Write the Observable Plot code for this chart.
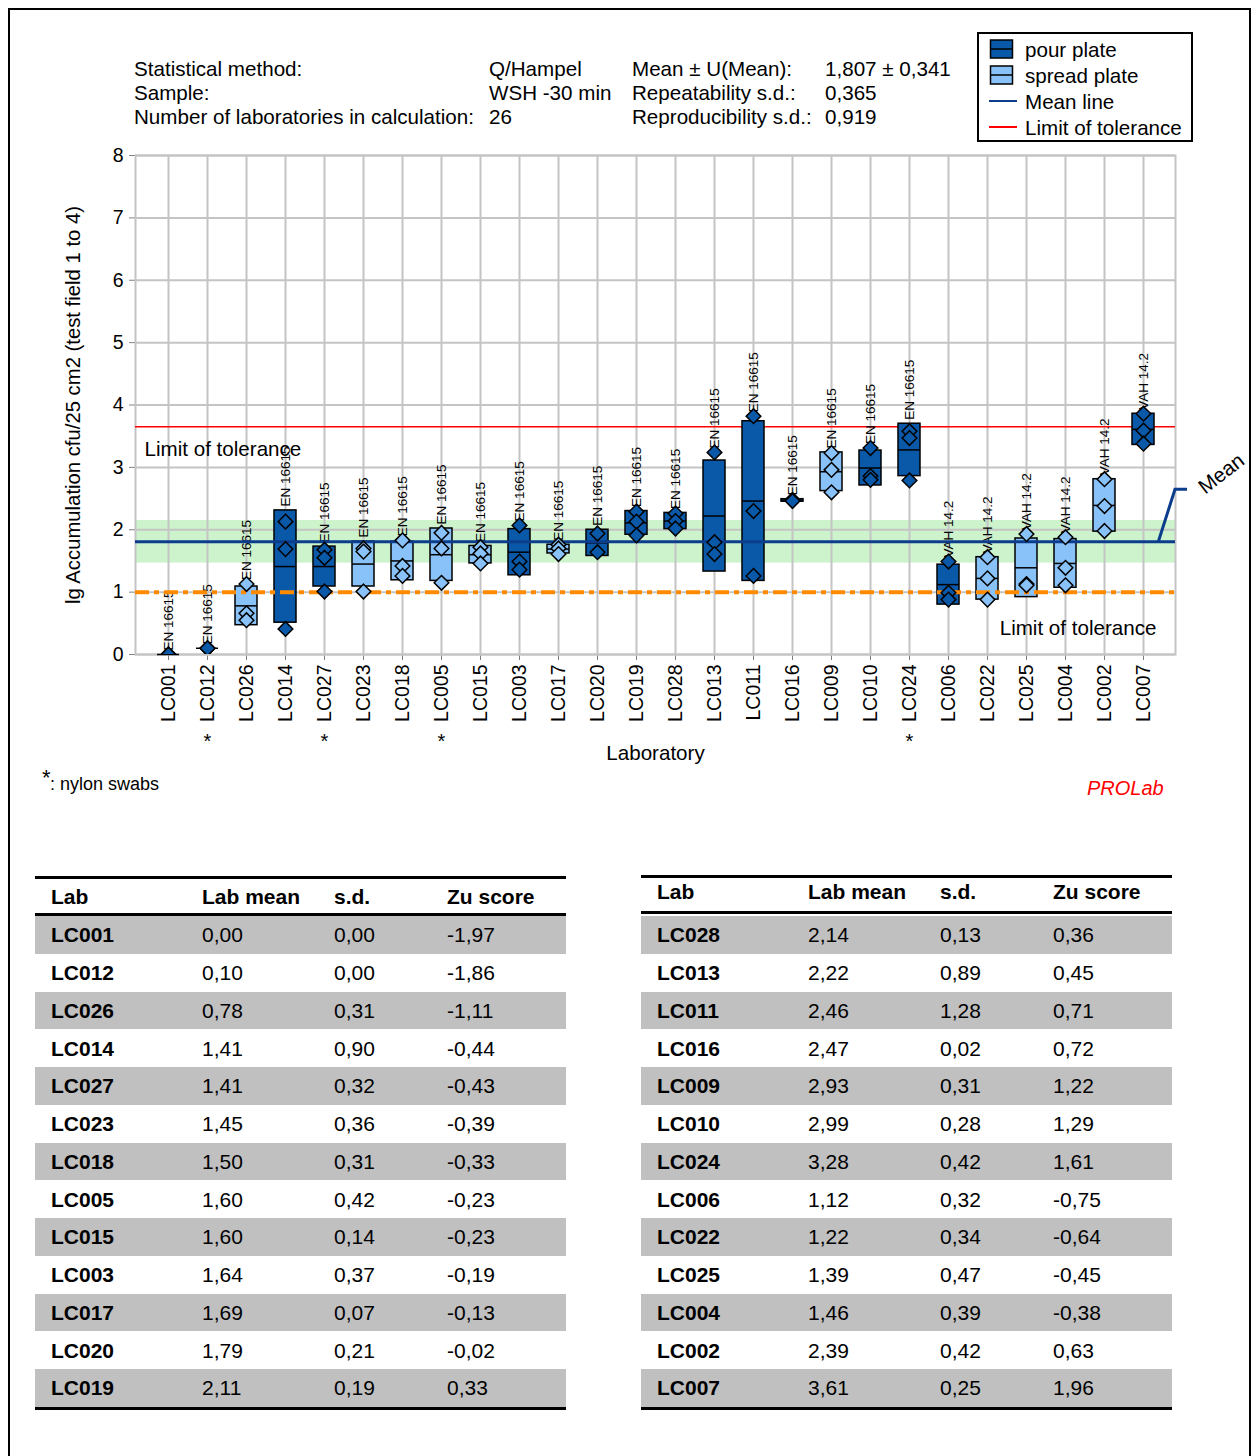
<!DOCTYPE html>
<html><head><meta charset="utf-8">
<script src="https://cdn.jsdelivr.net/npm/d3@7"></script>
<script src="https://cdn.jsdelivr.net/npm/@observablehq/plot@0.6"></script>
<style>
body{margin:0;background:#fff;font-family:Arial,"Liberation Sans",sans-serif;color:#000}
#page{position:relative;width:1251px;height:1456px;overflow:hidden;background:#fff}
.t{position:absolute;white-space:nowrap}
#chart{position:absolute;left:0;top:140px}
#chart svg text{fill:#000}
</style></head><body><div id="page"><div id="chart"></div></div>
<script>
// ---------- data ----------
const labs = ["LC001","LC012","LC026","LC014","LC027","LC023","LC018","LC005","LC015","LC003","LC017","LC020","LC019","LC028","LC013","LC011","LC016","LC009","LC010","LC024","LC006","LC022","LC025","LC004","LC002","LC007"];
const method = ["EN 16615","EN 16615","EN 16615","EN 16615","EN 16615","EN 16615","EN 16615","EN 16615","EN 16615","EN 16615","EN 16615","EN 16615","EN 16615","EN 16615","EN 16615","EN 16615","EN 16615","EN 16615","EN 16615","EN 16615","VAH 14.2","VAH 14.2","VAH 14.2","VAH 14.2","VAH 14.2","VAH 14.2"];
const plate = ["pour","pour","spread","pour","pour","spread","spread","spread","spread","pour","spread","pour","pour","pour","pour","pour","pour","spread","pour","pour","pour","spread","spread","spread","spread","pour"];
const labMean = [0.00,0.10,0.78,1.41,1.41,1.45,1.50,1.60,1.60,1.64,1.69,1.79,2.11,2.14,2.22,2.46,2.47,2.93,2.99,3.28,1.12,1.22,1.39,1.46,2.39,3.61];
const labSd = [0.00,0.00,0.31,0.90,0.32,0.36,0.31,0.42,0.14,0.37,0.07,0.21,0.19,0.13,0.89,1.28,0.02,0.31,0.28,0.42,0.32,0.34,0.47,0.39,0.42,0.25];
const zuScore = [-1.97,-1.86,-1.11,-0.44,-0.43,-0.39,-0.33,-0.23,-0.23,-0.19,-0.13,-0.02,0.33,0.36,0.45,0.71,0.72,1.22,1.29,1.61,-0.75,-0.64,-0.45,-0.38,0.63,1.96];
const replicates = [
  [0,0,0],[0.10,0.10,0.10],[1.13,0.66,0.55],[2.13,1.69,0.41],[1.68,1.55,1.01],
  [1.70,1.65,1.01],[1.83,1.42,1.26],[1.95,1.70,1.15],[1.72,1.62,1.46],[2.07,1.49,1.36],
  [1.76,1.70,1.61],[1.94,1.64],[2.29,2.13,1.91],[2.26,2.14,2.02],[3.24,1.80,1.61],
  [3.82,2.30,1.26],[2.48,2.46],[3.23,2.96,2.60],[3.31,2.86,2.80],[3.58,3.47,2.79],
  [1.49,0.99,0.88],[1.56,1.22,0.88],[1.93,1.13,1.11],[1.88,1.39,1.11],[2.81,2.38,1.98],[3.86,3.59,3.38]
];
const nylonLabs = ["LC012","LC027","LC005","LC024"];
const yTicks = [0,1,2,3,4,5,6,7,8];
const meanValue = 1.807, uMean = 0.341;
const upperLimit = 3.65, lowerLimit = 1.0;
const yLabel = "lg Accumulation cfu/25 cm2 (test field 1 to 4)";
const xLabel = "Laboratory";
const header1 = ["Statistical method:","Sample:","Number of laboratories in calculation:"];
const header2 = ["Q/Hampel","WSH -30 min","26"];
const header3 = ["Mean ± U(Mean):","Repeatability s.d.:","Reproducibility s.d.:"];
const header4 = ["1,807 ± 0,341","0,365","0,919"];
const legendLabels = ["pour plate","spread plate","Mean line","Limit of tolerance"];
const tableHeaders = ["Lab","Lab mean","s.d.","Zu score"];

// ---------- styles ----------
const FONT = 'Arial,"Liberation Sans",sans-serif';
const POUR = "#0a58a8", SPREAD = "#88c2f8", MEANC = "#0b3d8c";
const FS = 20.6;
const fillOf = p => p === "pour" ? POUR : SPREAD;
const page = document.getElementById("page");
function txt(s, x, yc, opt = {}) {
  const d = document.createElement("div");
  d.className = "t";
  const fs = opt.size || FS, lh = Math.round(fs * 1.2);
  d.style.left = x + "px";
  d.style.top = (yc - lh / 2) + "px";
  d.style.fontSize = fs + "px";
  d.style.lineHeight = lh + "px";
  if (opt.bold) d.style.fontWeight = "bold";
  if (opt.italic) d.style.fontStyle = "italic";
  if (opt.color) d.style.color = opt.color;
  d.textContent = s;
  page.appendChild(d);
  return d;
}
function box(x, y, w, h, css) {
  const d = document.createElement("div");
  d.style.position = "absolute";
  d.style.left = x + "px"; d.style.top = y + "px";
  d.style.width = w + "px"; d.style.height = h + "px";
  Object.assign(d.style, css);
  page.appendChild(d);
  return d;
}

// outer border
box(8, 8, 1239, 1470, {borderLeft: "2px solid #000", borderTop: "2px solid #000", borderRight: "2px solid #000"});

// header
header1.forEach((s, i) => txt(s, 134, 68 + 24 * i));
header2.forEach((s, i) => txt(s, 489, 68 + 24 * i));
header3.forEach((s, i) => txt(s, 632, 68 + 24 * i));
header4.forEach((s, i) => txt(s, 825, 68 + 24 * i));

// legend
box(977, 32, 212, 106, {border: "2px solid #000"});
legendLabels.forEach((s, i) => {
  const yc = 49 + 26 * i;
  txt(s, 1025, yc);
  const sv = document.createElementNS("http://www.w3.org/2000/svg", "svg");
  sv.setAttribute("width", 30); sv.setAttribute("height", 24);
  sv.style.position = "absolute"; sv.style.left = "988px"; sv.style.top = (yc - 12) + "px";
  if (i < 2) {
    sv.innerHTML = `<rect x="2.5" y="3" width="22" height="18" fill="${i === 0 ? POUR : SPREAD}" stroke="#000" stroke-width="1.5"/><line x1="2.5" x2="24.5" y1="12" y2="12" stroke="#000" stroke-width="1.5"/>`;
  } else {
    sv.innerHTML = `<line x1="1" x2="29" y1="12" y2="12" stroke="${i === 2 ? MEANC : "#ff0000"}" stroke-width="2"/>`;
  }
  page.appendChild(sv);
});

// ---------- chart ----------
const rows = labs.map((lab, i) => ({
  lab, mean: labMean[i], sd: labSd[i], plate: plate[i], method: method[i],
  top: Math.max(labMean[i] + labSd[i], d3.max(replicates[i]))
}));
const points = labs.flatMap((lab, i) => replicates[i].map(v => ({lab, v, plate: plate[i]})));

const chart = Plot.plot({
  width: 1251, height: 640,
  marginLeft: 135, marginRight: 76, marginTop: 15, marginBottom: 126,
  style: {fontFamily: FONT, fontSize: "19.5px", color: "#808080", background: "transparent", overflow: "visible"},
  x: {type: "band", domain: labs, paddingInner: 0.44, paddingOuter: 0.42, tickRotate: -90, tickSize: 6, tickPadding: 4, label: null, line: true},
  y: {domain: [0, 8], ticks: yTicks, tickSize: 6, tickPadding: 6, label: null, line: true},
  color: {type: "identity"},
  marks: [
    Plot.rect([0], {y1: meanValue - uMean, y2: meanValue + uMean, fill: "#ccf3cc"}),
    Plot.ruleY(yTicks, {stroke: "#c4c4c4", strokeWidth: 2}),
    Plot.ruleX(labs, {stroke: "#c4c4c4", strokeWidth: 2}),
    Plot.frame({stroke: "#c4c4c4", strokeWidth: 2}),
    Plot.ruleY([upperLimit], {stroke: "#ff0000", strokeWidth: 1.5}),
    Plot.text(rows, {x: "lab", y: "top", text: "method", rotate: -90, textAnchor: "start", dy: -4, fontSize: 13.5, fill: "#000"}),
    Plot.barY(rows, {x: "lab", y1: d => d.mean - d.sd, y2: d => d.mean + d.sd, fill: d => fillOf(d.plate), stroke: "#000", strokeWidth: 1.5}),
    Plot.tickY(rows, {x: "lab", y: "mean", stroke: "#000", strokeWidth: 1.5}),
    Plot.ruleY([lowerLimit], {stroke: "#ff8a00", strokeWidth: 4, strokeDasharray: "14,5,5,5"}),
    Plot.ruleY([meanValue], {stroke: MEANC, strokeWidth: 3}),
    Plot.dot(points, {x: "lab", y: "v", symbol: "diamond2", r: 6.6, fill: d => fillOf(d.plate), stroke: "#000", strokeWidth: 1.5, clip: true}),
    Plot.text(nylonLabs, {x: d => d, text: () => "*", frameAnchor: "bottom", dy: 93, fontSize: 20, fill: "#000"}),
    Plot.text([xLabel], {text: d => d, frameAnchor: "bottom", dy: 105, fontSize: FS, fill: "#000"}),
    Plot.text([yLabel], {text: d => d, frameAnchor: "left", textAnchor: "middle", dx: -62, rotate: -90, fontSize: 20.3, fill: "#000"}),
    Plot.text([upperLimit], {y: d => d, text: () => "Limit of tolerance", frameAnchor: "left", textAnchor: "start", dx: 9, dy: 23, fontSize: FS, fill: "#000"}),
    Plot.text(["Limit of tolerance"], {text: d => d, frameAnchor: "bottom-right", textAnchor: "end", dx: -19, dy: -20, fontSize: FS, fill: "#000"})
  ]
});
document.getElementById("chart").appendChild(chart);

// Mean call-out, positioned from the chart's own scales
(function () {
  const sx = chart.scale("x"), sy = chart.scale("y");
  const xs = d3.scaleBand(sx.domain, sx.range).paddingInner(sx.paddingInner ?? 0.44).paddingOuter(sx.paddingOuter ?? 0.42).align(sx.align ?? 0.5);
  const ys = d3.scaleLinear(sy.domain, sy.range);
  const last = labs[labs.length - 1];
  const x0 = xs(last) + xs.bandwidth(), y0 = ys(meanValue);
  const x1 = xs.range()[1], y1 = y0 - 52, x2 = x1 + 12;
  const svg = d3.select(chart);
  svg.append("path").attr("d", `M${x0},${y0}L${x1},${y1}L${x2},${y1}`)
    .attr("fill", "none").attr("stroke", MEANC).attr("stroke-width", 3);
  svg.append("text").attr("transform", `translate(${x1 + 46},${y1 - 16}) rotate(-38)`)
    .attr("text-anchor", "middle").attr("dy", "0.35em").attr("font-size", FS).attr("fill", "#000").text("Mean");
})();

// footnote + brand
txt("*", 42, 778, {size: 22});
txt(": nylon swabs", 50, 784, {size: 18});
txt("PROLab", 1087, 788, {size: 20, italic: true, color: "#ff0000"});

// ---------- tables ----------
const fmt = v => v.toFixed(2).replace(".", ",");
function table(x0, startIdx, headerY, topLineY, headLineY) {
  const w = 531, colX = [16, 167, 299, 412];
  box(x0, topLineY, w, 3, {background: "#000"});
  tableHeaders.forEach((h, j) => txt(h, x0 + colX[j], headerY, {bold: true, size: 21}));
  box(x0, headLineY, w, 3, {background: "#000"});
  const rowH = 37.75, y0 = 916;
  for (let r = 0; r < 13; r++) {
    const i = startIdx + r;
    const top = y0 + rowH * r;
    if (r % 2 === 0) box(x0, top, w, rowH, {background: "#c0c0c0"});
    const yc = top + rowH / 2;
    txt(labs[i], x0 + colX[0], yc, {bold: true, size: 21});
    txt(fmt(labMean[i]), x0 + colX[1], yc, {size: 21});
    txt(fmt(labSd[i]), x0 + colX[2], yc, {size: 21});
    txt(fmt(zuScore[i]), x0 + colX[3], yc, {size: 21});
  }
  box(x0, y0 + rowH * 13, w, 3, {background: "#000"});
}
table(35, 0, 896, 876, 913);
table(641, 13, 891, 875, 911);
</script></body></html>
